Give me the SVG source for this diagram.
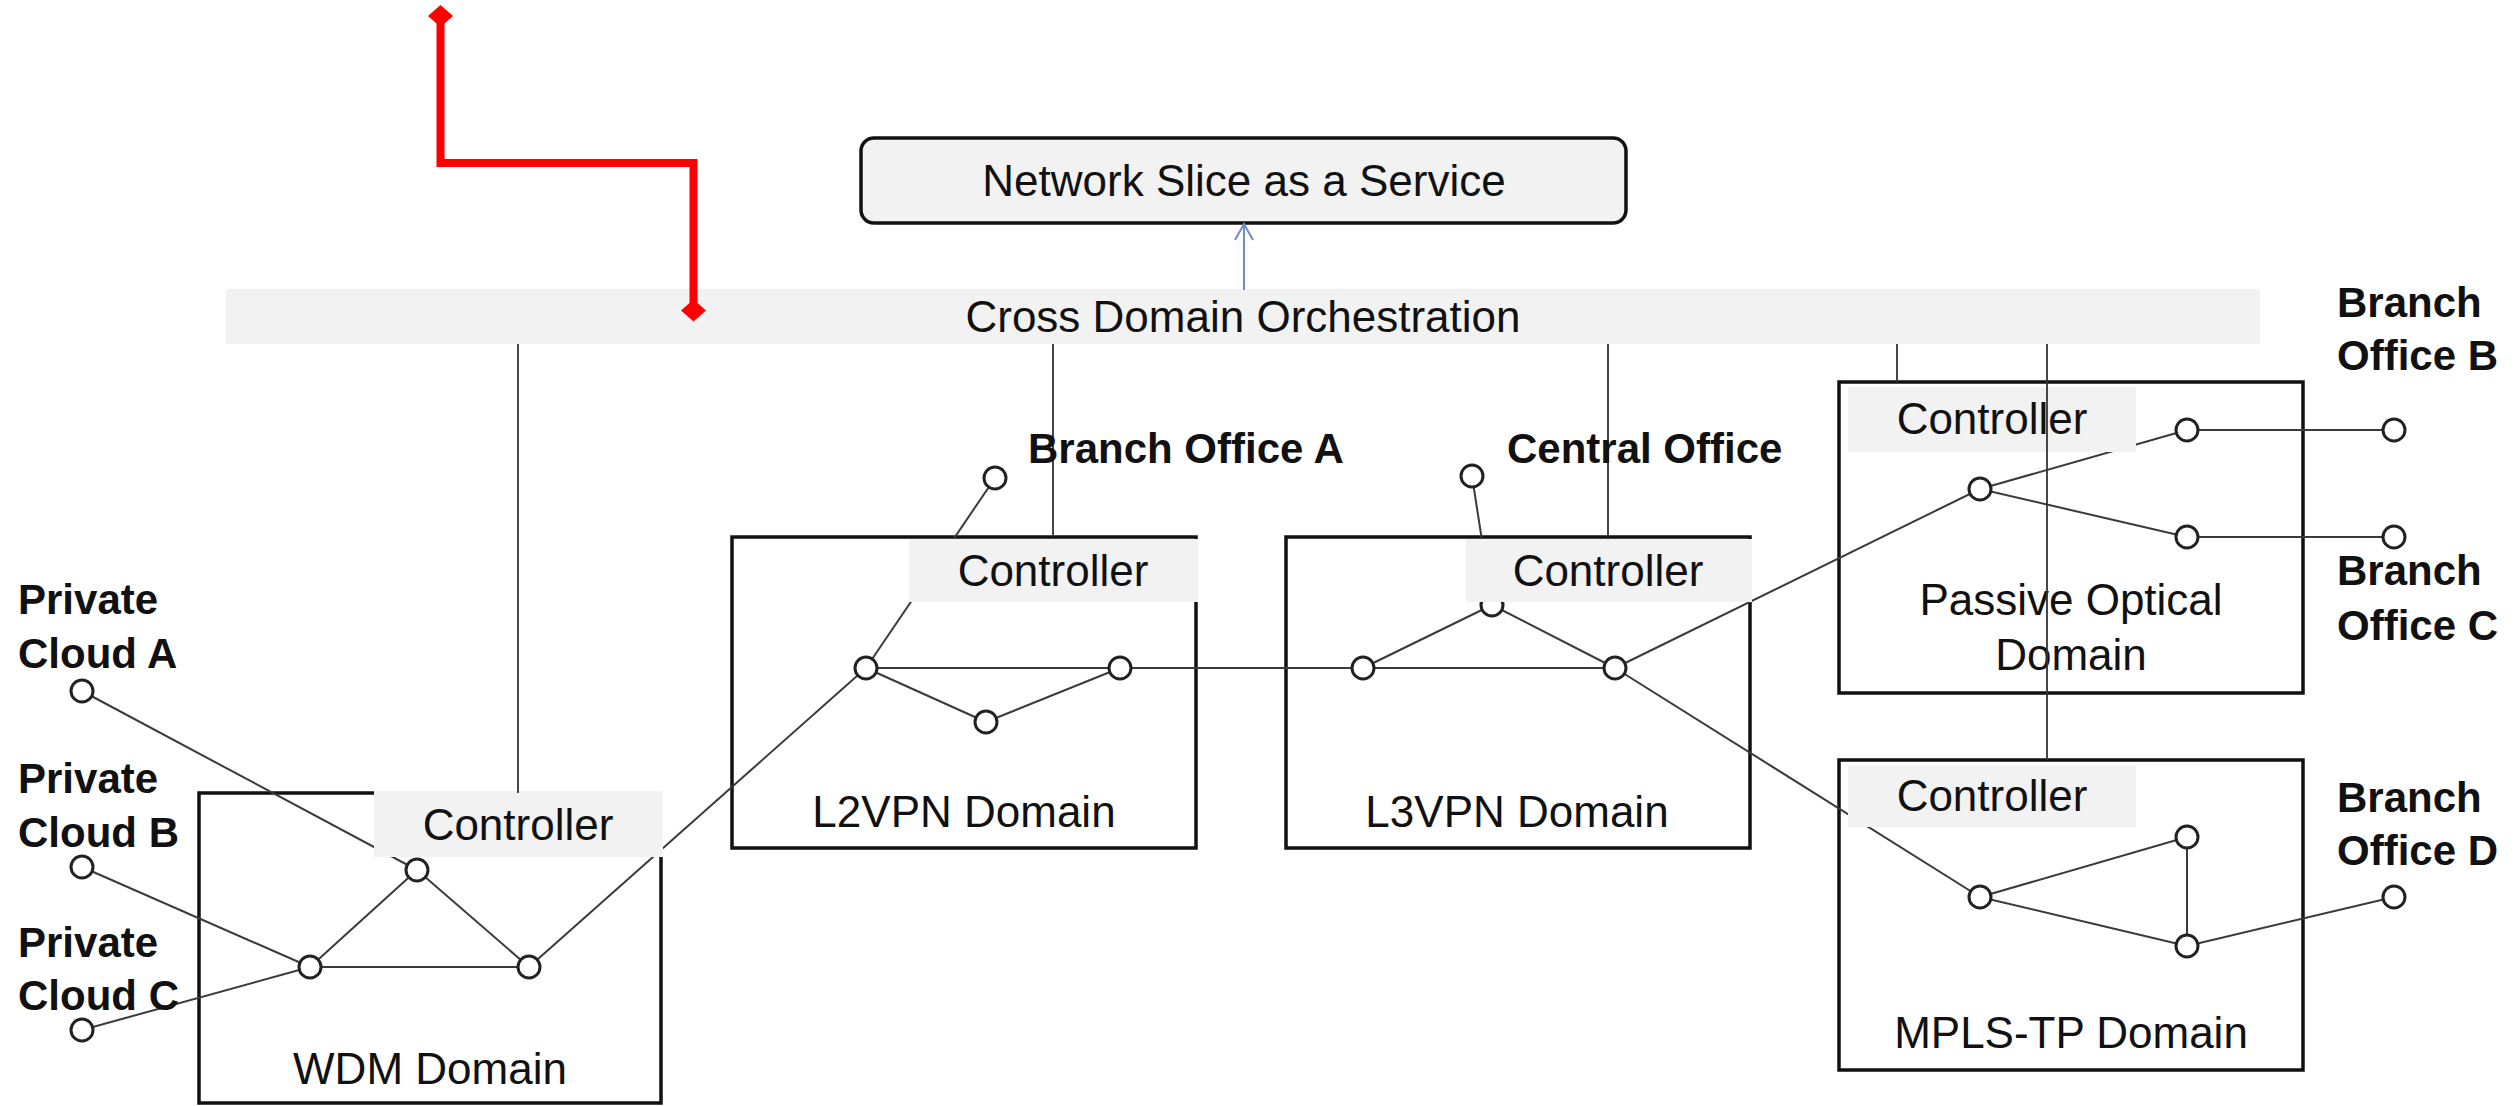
<svg xmlns="http://www.w3.org/2000/svg" width="2514" height="1106" viewBox="0 0 2514 1106">
<style>
text{font-family:"Liberation Sans",Arial,sans-serif;fill:#111}
.reg{font-size:44px}
.mid{text-anchor:middle}
.bold{font-size:42px;font-weight:bold}
.link{stroke:#3a3a3a;stroke-width:2;fill:none}
.vline{stroke:#333;stroke-width:1.8;fill:none}
.node{fill:#fff;stroke:#222;stroke-width:3}
.domain{fill:#fff;stroke:#111;stroke-width:3.5}
.ctrl{fill:#f2f2f2;stroke:none}
</style>
<defs>
<marker id="dia" markerUnits="userSpaceOnUse" viewBox="-13 -12 26 24" refX="0" refY="0" markerWidth="26" markerHeight="24" orient="0">
<path d="M0,-11 L12.5,0 L0,11 L-12.5,0 Z" fill="#ff0000"/>
</marker>
<marker id="openArrow" markerUnits="userSpaceOnUse" viewBox="-10 -2 20 20" refX="0" refY="0" markerWidth="20" markerHeight="20" orient="0">
<path d="M-9,16 L0,0 L9,16" fill="none" stroke="#6f8cc6" stroke-width="2"/>
</marker>
</defs>
<rect width="2514" height="1106" fill="#fff"/>

<!-- top layer nodes -->
<g id="nsaas">
<rect x="861" y="138" width="765" height="85" rx="13" fill="#f2f2f2" stroke="#111" stroke-width="3.5"/>
<text class="reg mid" x="1244" y="196">Network Slice as a Service</text>
</g>
<g id="cross-domain-orchestration">
<rect x="226" y="289" width="2034" height="55" fill="#f2f2f2"/>
<text class="reg mid" x="1243" y="332">Cross Domain Orchestration</text>
</g>

<!-- domain boxes -->
<g id="wdm-domain">
<rect class="domain" x="199" y="793" width="462" height="310"/>
<text class="reg mid" x="430" y="1084">WDM Domain</text>
</g>
<g id="l2vpn-domain">
<rect class="domain" x="732" y="537" width="464" height="311"/>
<text class="reg mid" x="964" y="827">L2VPN Domain</text>
</g>
<g id="l3vpn-domain">
<rect class="domain" x="1286" y="537" width="464" height="311"/>
<text class="reg mid" x="1517" y="827">L3VPN Domain</text>
</g>
<g id="pon-domain">
<rect class="domain" x="1839" y="382" width="464" height="311"/>
<text class="reg mid" x="2071" y="615">Passive Optical</text>
<text class="reg mid" x="2071" y="670">Domain</text>
</g>
<g id="mpls-domain">
<rect class="domain" x="1839" y="760" width="464" height="310"/>
<text class="reg mid" x="2071" y="1048">MPLS-TP Domain</text>
</g>

<!-- connectors -->
<g id="connectors">
<!-- WDM -->
<line class="link" x1="82" y1="691" x2="417" y2="870"/>
<line class="link" x1="82" y1="867" x2="310" y2="967"/>
<line class="link" x1="82" y1="1030" x2="310" y2="967"/>
<line class="link" x1="310" y1="967" x2="417" y2="870"/>
<line class="link" x1="417" y1="870" x2="529" y2="967"/>
<line class="link" x1="310" y1="967" x2="529" y2="967"/>
<line class="link" x1="529" y1="967" x2="866" y2="668"/>
<!-- L2VPN -->
<line class="link" x1="995" y1="478" x2="866" y2="668"/>
<line class="link" x1="866" y1="668" x2="1120" y2="668"/>
<line class="link" x1="866" y1="668" x2="986" y2="722"/>
<line class="link" x1="986" y1="722" x2="1120" y2="668"/>
<line class="link" x1="1120" y1="668" x2="1363" y2="668"/>
<!-- L3VPN -->
<line class="link" x1="1472" y1="476" x2="1492" y2="605"/>
<line class="link" x1="1363" y1="668" x2="1492" y2="605"/>
<line class="link" x1="1492" y1="605" x2="1615" y2="668"/>
<line class="link" x1="1363" y1="668" x2="1615" y2="668"/>
<line class="link" x1="1615" y1="668" x2="1980" y2="489"/>
<line class="link" x1="1615" y1="668" x2="1980" y2="897"/>
<!-- PON -->
<line class="link" x1="1980" y1="489" x2="2187" y2="430"/>
<line class="link" x1="1980" y1="489" x2="2187" y2="537"/>
<line class="link" x1="2187" y1="430" x2="2394" y2="430"/>
<line class="link" x1="2187" y1="537" x2="2394" y2="537"/>
<!-- MPLS -->
<line class="link" x1="1980" y1="897" x2="2187" y2="837"/>
<line class="link" x1="1980" y1="897" x2="2187" y2="946"/>
<line class="link" x1="2187" y1="837" x2="2187" y2="946"/>
<line class="link" x1="2187" y1="946" x2="2394" y2="897"/>
</g>

<!-- network nodes -->
<g id="network-nodes">
<circle class="node" cx="82" cy="691" r="11"/>
<circle class="node" cx="82" cy="867" r="11"/>
<circle class="node" cx="82" cy="1030" r="11"/>
<circle class="node" cx="417" cy="870" r="11"/>
<circle class="node" cx="310" cy="967" r="11"/>
<circle class="node" cx="529" cy="967" r="11"/>
<circle class="node" cx="995" cy="478" r="11"/>
<circle class="node" cx="866" cy="668" r="11"/>
<circle class="node" cx="1120" cy="668" r="11"/>
<circle class="node" cx="986" cy="722" r="11"/>
<circle class="node" cx="1472" cy="476" r="11"/>
<circle class="node" cx="1363" cy="668" r="11"/>
<circle class="node" cx="1492" cy="605" r="11"/>
<circle class="node" cx="1615" cy="668" r="11"/>
<circle class="node" cx="1980" cy="489" r="11"/>
<circle class="node" cx="2187" cy="430" r="11"/>
<circle class="node" cx="2187" cy="537" r="11"/>
<circle class="node" cx="2394" cy="430" r="11"/>
<circle class="node" cx="2394" cy="537" r="11"/>
<circle class="node" cx="1980" cy="897" r="11"/>
<circle class="node" cx="2187" cy="837" r="11"/>
<circle class="node" cx="2187" cy="946" r="11"/>
<circle class="node" cx="2394" cy="897" r="11"/>
</g>

<!-- controllers -->
<g id="wdm-controller">
<rect class="ctrl" x="374" y="791" width="289" height="66"/>
<text class="reg mid" x="518" y="840">Controller</text>
</g>
<g id="l2vpn-controller">
<rect class="ctrl" x="909" y="539" width="289" height="63"/>
<text class="reg mid" x="1053" y="586">Controller</text>
</g>
<g id="l3vpn-controller">
<rect class="ctrl" x="1466" y="539" width="286" height="63"/>
<text class="reg mid" x="1608" y="586">Controller</text>
</g>
<g id="pon-controller">
<rect class="ctrl" x="1848" y="387" width="288" height="65"/>
<text class="reg mid" x="1992" y="434">Controller</text>
</g>
<g id="mpls-controller">
<rect class="ctrl" x="1848" y="765" width="288" height="62"/>
<text class="reg mid" x="1992" y="811">Controller</text>
</g>

<!-- orchestration links -->
<g id="orchestration-links">
<line class="vline" x1="518" y1="344" x2="518" y2="793"/>
<line class="vline" x1="1053" y1="344" x2="1053" y2="537"/>
<line class="vline" x1="1608" y1="344" x2="1608" y2="537"/>
<line class="vline" x1="1897" y1="344" x2="1897" y2="382"/>
<line class="vline" x1="2047" y1="344" x2="2047" y2="760"/>
<line x1="1244" y1="290" x2="1244" y2="224" stroke="#6f8cc6" stroke-width="2" marker-end="url(#openArrow)"/>
<path d="M440.5,16 V163 H693.5 V310.5" fill="none" stroke="#ff0000" stroke-width="8" marker-start="url(#dia)" marker-end="url(#dia)"/>
</g>

<!-- endpoint labels -->
<g id="label-private-cloud-a"><text class="bold" x="18" y="614">Private</text><text class="bold" x="18" y="668">Cloud A</text></g>
<g id="label-private-cloud-b"><text class="bold" x="18" y="793">Private</text><text class="bold" x="18" y="847">Cloud B</text></g>
<g id="label-private-cloud-c"><text class="bold" x="18" y="957">Private</text><text class="bold" x="18" y="1010">Cloud C</text></g>
<g id="label-branch-office-a"><text class="bold" x="1028" y="463">Branch Office A</text></g>
<g id="label-central-office"><text class="bold" x="1507" y="463">Central Office</text></g>
<g id="label-branch-office-b"><text class="bold" x="2337" y="317">Branch</text><text class="bold" x="2337" y="370">Office B</text></g>
<g id="label-branch-office-c"><text class="bold" x="2337" y="585">Branch</text><text class="bold" x="2337" y="640">Office C</text></g>
<g id="label-branch-office-d"><text class="bold" x="2337" y="812">Branch</text><text class="bold" x="2337" y="865">Office D</text></g>
</svg>
